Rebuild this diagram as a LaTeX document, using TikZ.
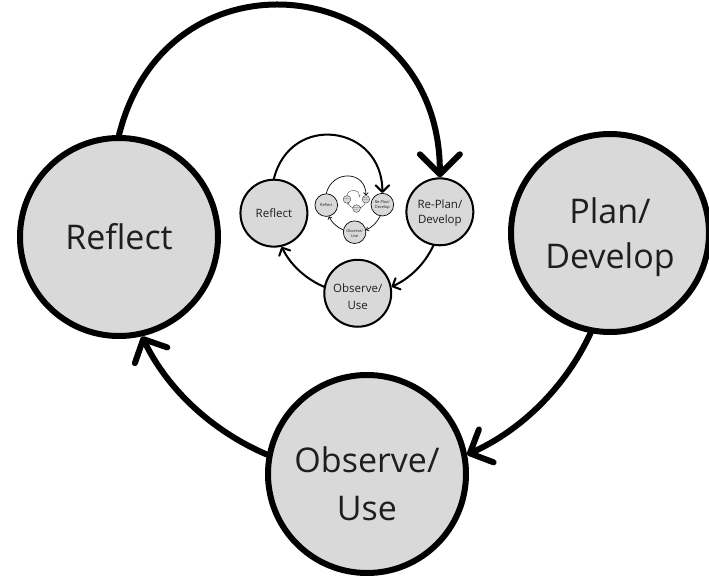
\documentclass[tikz,border=0pt]{standalone}
\usepackage{fontspec}
\setmainfont{Open Sans}
\usetikzlibrary{arrows.meta}
\definecolor{stagefill}{RGB}{217,217,217}
\definecolor{stagetext}{RGB}{30,30,30}

\begin{document}
\begin{tikzpicture}[x=1pt,y=1pt,
  stage/.style={circle, draw=black, fill=stagefill, inner sep=0pt,
    align=center, text=stagetext},
  caption/.style={inner sep=0pt, align=center, text=stagetext}]
\useasboundingbox (0,0) rectangle (709,579);

% Each level of the cycle is a copy of the outer one, scaled about (353,378)
\foreach \k/\dx/\dy in {0/0/0,1/0/0,2/0/0,3/3/3} {
  \pgfmathsetmacro\sc{0.338^\k}
  \pgfmathsetmacro\fs{34*\sc}
  \pgfmathsetmacro\bs{45*\sc}
  \pgfmathsetmacro\bso{48*\sc}
  \pgfmathsetmacro\lw{6*\sc}
  \pgfmathsetmacro\ms{198*\sc}
  \ifnum\k=0 \def\plantext{Plan/\\Develop}\else \def\plantext{Re-Plan/\\Develop}\fi
  \tikzset{lvl/.style={stage, line width=\lw pt, minimum size=\ms pt,
      font=\fontsize{\fs}{\bs}\selectfont}}
  \node[lvl] (R\k) at ({353+\dx+\sc*(119-353)},{378+\dy+\sc*(342-378)}) {Reflect};
  \node[lvl] (P\k) at ({353+\dx+\sc*(610-353)},{378+\dy+\sc*(346-378)}) {};
  \node[lvl] (O\k) at ({353+\dx+\sc*(367-353)},{378+\dy+\sc*(105-378)}) {};
  \node[caption, font=\fontsize{\fs}{\bs}\selectfont] (Pt\k)
    at ([yshift=-4*\sc]P\k.center) {\plantext};
  \node[caption, font=\fontsize{\fs}{\bso}\selectfont] (Ot\k)
    at ([yshift=-10*\sc]O\k.center) {Observe/\\Use};
}

% Connectors of each level follow one circle through the three stages;
% the top arc leads into the next, smaller level
\foreach \k in {0,1,2,3} {
  \pgfmathsetmacro\sc{0.338^\k}
  \pgfmathsetmacro\lw{6*\sc}
  \begin{scope}[line width=\lw pt, line cap=round,
      flowtip/.style={-{Straight Barb[length=18pt,width=36pt,round,scale=\sc]}}]
    \draw[flowtip] (P\k.-101.4) to[out=-114.9,in=24.2,looseness=0.88] (O\k.11.2);
    \draw[flowtip] (O\k.169.7) to[out=156.8,in=-64.2,looseness=0.88] (R\k.-77.1);
  \end{scope}
}
\foreach \k/\kk in {0/1,1/2,2/3} {
  \pgfmathsetmacro\sc{0.338^\k}
  \pgfmathsetmacro\lw{6*\sc}
  \draw[line width=\lw pt, line cap=round,
    -{Straight Barb[length=20pt,width=40pt,round,scale=\sc]}]
    (R\k.north) to[out=76,in=90,looseness=1.6] (P\kk.north);
}
% innermost arc ends where a further level would begin
\coordinate (L4) at (359.4,382.4);
\draw[line width=0.23pt, line cap=round,
  -{Straight Barb[length=20pt,width=40pt,round,scale=0.0386]}]
  (R3.north) to[out=76,in=90,looseness=1.6] (L4);
\end{tikzpicture}
\end{document}
